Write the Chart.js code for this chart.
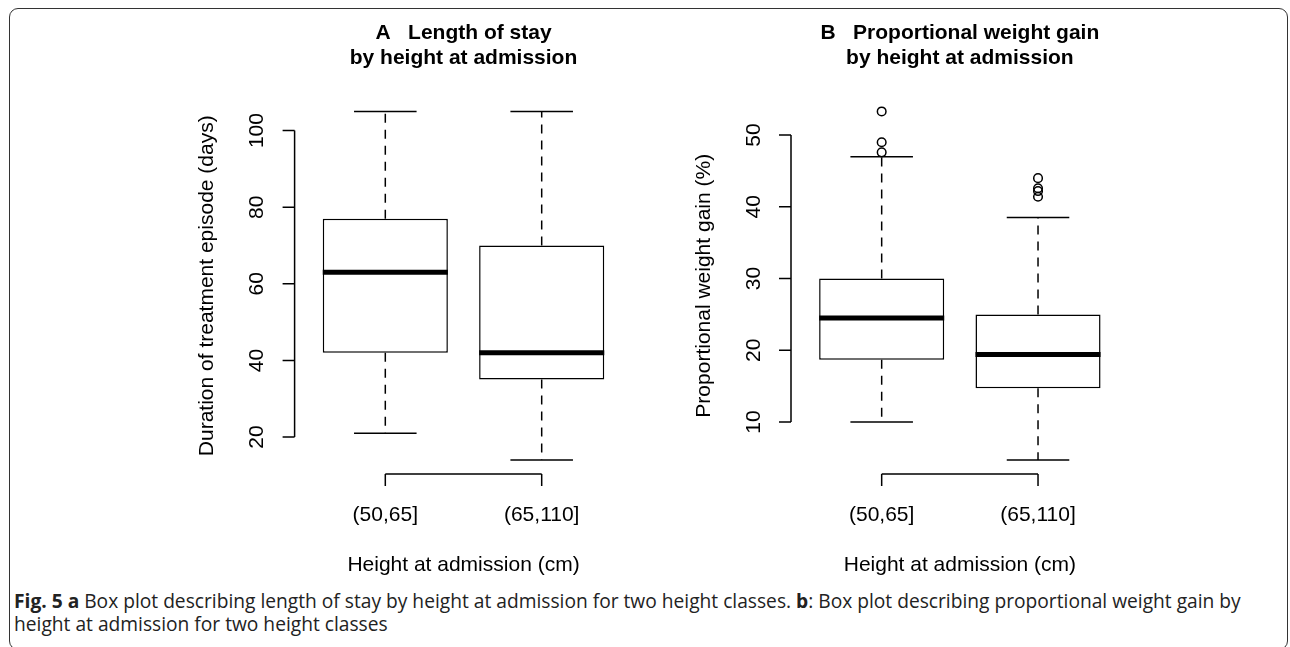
<!DOCTYPE html>
<html>
<head>
<meta charset="utf-8">
<script src="https://cdn.jsdelivr.net/npm/chart.js@4.4.1/dist/chart.umd.min.js"></script>
<style>
  html, body { margin: 0; padding: 0; background: #fff; }
  #page { position: relative; width: 1290px; height: 647px; overflow: hidden; }
  #frame { position: absolute; left: 9px; top: 8px; width: 1277px; height: 640px;
           border: 1.5px solid #333; border-radius: 9px; }
  canvas { position: absolute; top: 0; }
  #chartA { left: 0; }
  #chartB { left: 645px; }
  #caption { position: absolute; left: 14px; top: 589px; width: 1270px;
             font-family: 'Open Sans', 'Noto Sans', sans-serif; font-size: 19.2px;
             line-height: 23px; color: #222; white-space: nowrap; }
</style>
</head>
<body>
<div id="page">
  <div id="frame"></div>
  <canvas id="chartA" width="645" height="585"></canvas>
  <canvas id="chartB" width="645" height="585"></canvas>
  <div id="caption"><b>Fig. 5 a</b> Box plot describing length of stay by height at admission for two height classes. <b>b</b>: Box plot describing proportional weight gain by<br>height at admission for two height classes</div>
</div>
<script>
// R-style boxplots: two panels, two height classes each
Chart.defaults.font.family = "'Liberation Sans', Arial, sans-serif";
Chart.defaults.color = '#000';

const heightClasses = ['(50,65]', '(65,110]'];
const classPositions = [1, 2];

// A - length of stay (days)
const stayLow = [21, 14];
const stayQ1 = [42, 35];
const stayMedian = [63, 42];
const stayQ3 = [77, 70];
const stayHigh = [105, 105];
const stayOutliers = [[], []];
const stayTicks = [20, 40, 60, 80, 100];

// B - proportional weight gain (%)
const gainLow = [10, 4.7];
const gainQ1 = [18.7, 14.7];
const gainMedian = [24.5, 19.4];
const gainQ3 = [30, 25];
const gainHigh = [47, 38.5];
const gainOutliers = [[47.6, 49, 53.3], [41.4, 42.2, 42.6, 44.0]];
const gainTicks = [10, 20, 30, 40, 50];

const FONT = 21;

function segment(points, extra) {
    return Object.assign({
        type: 'line', data: points, borderColor: '#000', borderWidth: 1.5,
        pointRadius: 0, fill: false, tension: 0, order: 1
    }, extra || {});
}

function boxDatasets(low, q1, med, q3, high, outliers) {
    const ds = [];
    ds.push({
        type: 'bar',
        data: classPositions.map((x, i) => ({ x: x, y: [q1[i], q3[i]] })),
        backgroundColor: '#fff', borderColor: '#000', borderWidth: 1.5,
        borderSkipped: false, categoryPercentage: 1, barPercentage: 0.8, order: 3
    });
    classPositions.forEach((x, i) => {
        // dashed whiskers, from the box out
        ds.push(segment([{ x: x, y: q3[i] }, { x: x, y: high[i] }], { borderDash: [9, 7] }));
        ds.push(segment([{ x: x, y: q1[i] }, { x: x, y: low[i] }], { borderDash: [9, 7] }));
        // staples
        ds.push(segment([{ x: x - 0.2, y: high[i] }, { x: x + 0.2, y: high[i] }]));
        ds.push(segment([{ x: x - 0.2, y: low[i] }, { x: x + 0.2, y: low[i] }]));
        // median
        ds.push(segment([{ x: x - 0.4, y: med[i] }, { x: x + 0.4, y: med[i] }],
            { borderWidth: 5, borderCapStyle: 'butt', order: 0 }));
    });
    ds.push({
        type: 'scatter',
        data: outliers.flatMap((arr, i) => arr.map(v => ({ x: classPositions[i], y: v }))),
        pointStyle: 'circle', pointRadius: 4.3, pointBorderWidth: 1.5,
        pointBackgroundColor: 'rgba(255,255,255,0)', pointBorderColor: '#000', order: 0
    });
    return ds;
}

// axes the way R draws them: y axis only across the ticks, x axis as a bracket
const rAxes = {
    id: 'rAxes',
    afterDraw(chart, args, opts) {
        const { ctx, chartArea } = chart;
        const xs = chart.scales.x, ys = chart.scales.y;
        ctx.save();
        ctx.strokeStyle = '#000';
        ctx.lineWidth = 1.5;
        ctx.fillStyle = '#000';
        ctx.font = FONT + "px 'Liberation Sans', Arial, sans-serif";

        const left = chartArea.left;
        const yTop = ys.getPixelForValue(opts.yTicks[opts.yTicks.length - 1]);
        const yBot = ys.getPixelForValue(opts.yTicks[0]);
        ctx.beginPath();
        ctx.moveTo(left, yBot);
        ctx.lineTo(left, yTop);
        opts.yTicks.forEach(v => {
            const y = ys.getPixelForValue(v);
            ctx.moveTo(left, y);
            ctx.lineTo(left - 12, y);
        });
        const bottom = chartArea.bottom;
        const x1 = xs.getPixelForValue(classPositions[0]);
        const x2 = xs.getPixelForValue(classPositions[classPositions.length - 1]);
        ctx.moveTo(x1, bottom);
        ctx.lineTo(x2, bottom);
        classPositions.forEach(v => {
            const x = xs.getPixelForValue(v);
            ctx.moveTo(x, bottom);
            ctx.lineTo(x, bottom + 12);
        });
        ctx.stroke();

        ctx.textAlign = 'center';
        ctx.textBaseline = 'middle';
        opts.yTicks.forEach(v => {
            ctx.save();
            ctx.translate(left - 37, ys.getPixelForValue(v));
            ctx.rotate(-Math.PI / 2);
            ctx.fillText(String(v), 0, 0);
            ctx.restore();
        });
        ctx.save();
        ctx.translate(left - 87, (chartArea.top + chartArea.bottom) / 2);
        ctx.rotate(-Math.PI / 2);
        ctx.fillText(opts.yTitle, 0, 0);
        ctx.restore();

        heightClasses.forEach((lab, i) => {
            ctx.fillText(lab, xs.getPixelForValue(classPositions[i]), bottom + 41);
        });
        ctx.fillText(opts.xTitle, (chartArea.left + chartArea.right) / 2, bottom + 91);
        ctx.restore();
    }
};

function yRange(low, high, outliers) {
    const all = low.concat(high, outliers.flat());
    const lo = Math.min(...all), hi = Math.max(...all);
    const pad = (hi - lo) * 0.04;
    return { min: lo - pad, max: hi + pad };
}

function makeChart(id, titleLines, yTitle, yTicks, series, padding) {
    const r = yRange(series[0], series[4], series[5]);
    return new Chart(document.getElementById(id).getContext('2d'), {
        data: { datasets: boxDatasets(...series) },
        options: {
            responsive: false, animation: false, events: [],
            layout: { padding: padding },
            scales: {
                x: {
                    type: 'linear', display: false, offset: false, min: 0.42, max: 2.58,
                    afterBuildTicks: s => { s.ticks = classPositions.map(v => ({ value: v })); }
                },
                y: { type: 'linear', display: false, min: r.min, max: r.max }
            },
            plugins: {
                legend: { display: false },
                tooltip: { enabled: false },
                title: {
                    display: true, text: titleLines, color: '#000',
                    font: { size: FONT, weight: 'bold', lineHeight: 25 / FONT },
                    padding: { top: 20.5, bottom: 27 }
                },
                rAxes: { yTicks: yTicks, yTitle: yTitle, xTitle: 'Height at admission (cm)' }
            }
        },
        plugins: [rAxes]
    });
}

makeChart('chartA', ['A   Length of stay', 'by height at admission'],
    'Duration of treatment episode (days)', stayTicks,
    [stayLow, stayQ1, stayMedian, stayQ3, stayHigh, stayOutliers],
    { left: 294.6, right: 12.6, top: 0, bottom: 111 });

makeChart('chartB', ['B   Proportional weight gain', 'by height at admission'],
    'Proportional weight gain (%)', gainTicks,
    [gainLow, gainQ1, gainMedian, gainQ3, gainHigh, gainOutliers],
    { left: 146, right: 161.3, top: 0, bottom: 111 });
</script>
</body>
</html>
